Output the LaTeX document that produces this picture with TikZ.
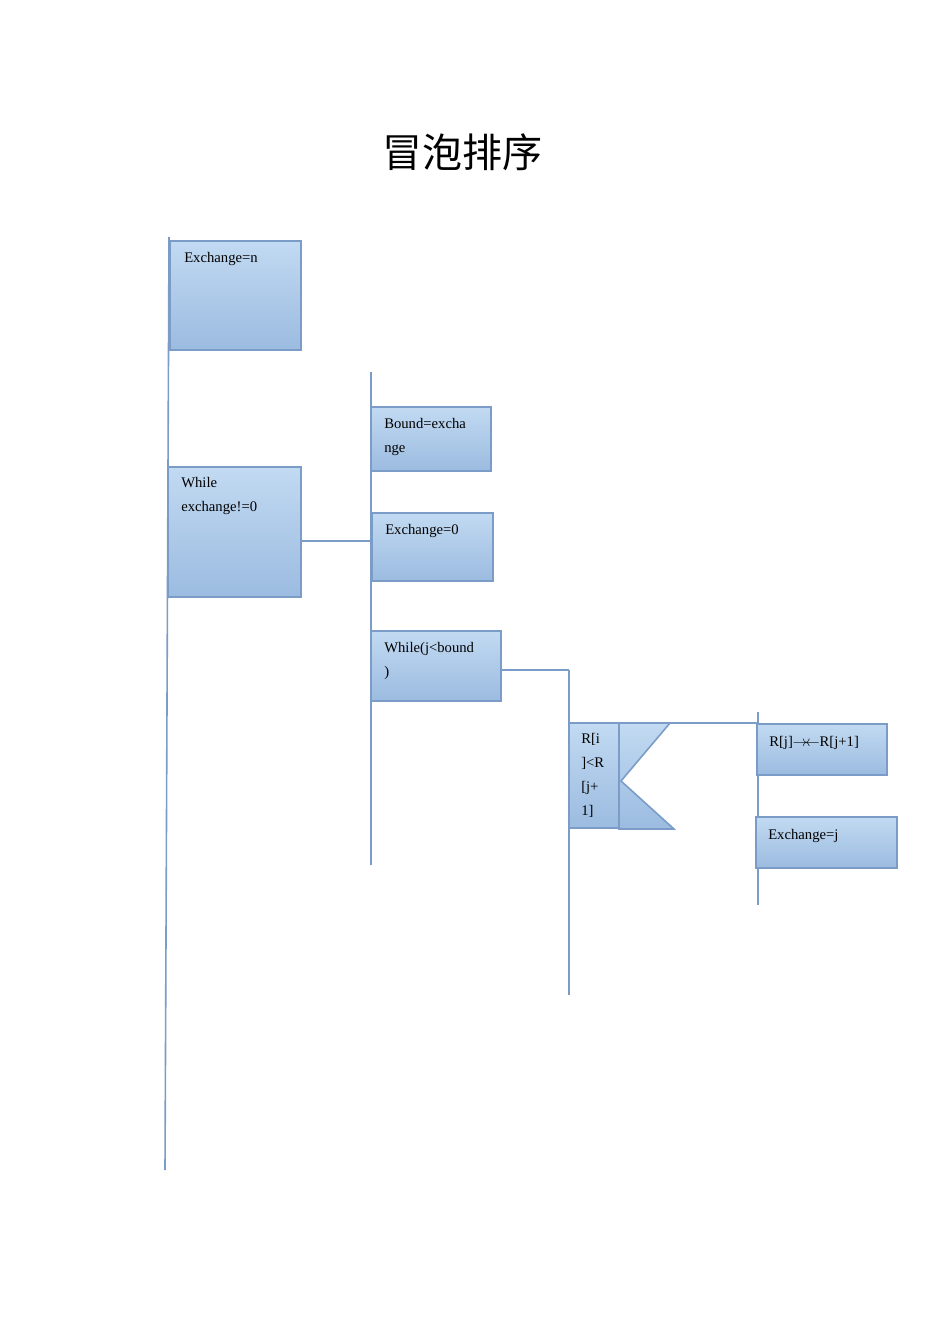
\documentclass[tikz,border=0pt]{standalone}
\usepackage{fontspec}
\setmainfont{Liberation Serif}
\newfontfamily\cjk{Noto Sans CJK SC}
\definecolor{bx}{HTML}{7A9CC6}
\definecolor{topc}{HTML}{C2DAF2}
\definecolor{botc}{HTML}{9BBBE0}
\begin{document}
\begin{tikzpicture}[x=0.75pt,y=-0.75pt,
  box/.style={draw=bx,line width=1.2pt,top color=topc,bottom color=botc},
  ln/.style={draw=bx,line width=1.2pt},
  lab/.style={anchor=north west,font=\fontsize{11}{18}\selectfont,align=left,inner sep=0pt}]
\useasboundingbox (0,0) rectangle (950,1344);
\node[font=\cjk\fontsize{30}{30}\selectfont] (title) at (462,152) {冒泡排序};
% lines
\draw[ln] (169,237) coordinate (m1) -- (165,1170) coordinate (m2);
\draw[ln] (371,372) coordinate (s1) -- (371,865) coordinate (s2);
\draw[ln] (569,670) coordinate (t1) -- (569,995) coordinate (t2);
\draw[ln] (758,712) coordinate (u1) -- (758,905) coordinate (u2);
\draw[ln] (301,541) coordinate (c1) -- (371,541) coordinate (c2);
\draw[ln] (498,670) coordinate (d1) -- (t1);
\draw[ln] (670,723) coordinate (e1) -- (758,723) coordinate (e2);
% boxes
\path[box] (170,241) rectangle (301,350) coordinate (exn);
\node[lab] (exnl) at (184,252) {Exchange=n};
\path[box] (168,467) rectangle (301,597);
\node[lab] (w1) at (181,477) {While\\exchange!=0};
\path[box] (371,407) rectangle (491,471);
\node[lab] (bd) at (384,418) {Bound=excha\\nge};
\path[box] (372,513) rectangle (493,581);
\node[lab] (e0) at (385,524) {Exchange=0};
\path[box] (371,631) rectangle (501,701);
\node[lab] (w2) at (384,642) {While(j<bound\\)};
\path[box] (569,723) rectangle (619,828);
\node[lab] (cd) at (581,733) {R[i\\{]<R}\\{[j+}\\{1]}};
\path[box] (619,723) -- (670,723) -- (621,781) -- (674,829) -- (619,829) -- cycle;
\path[box] (757,724) rectangle (887,775);
\node[lab] (sw) at (769,736) {R[j]$\rightarrow\!\leftarrow$R[j+1]};
\path[box] (756,817) rectangle (897,868);
\node[lab] (ej) at (768,829) {Exchange=j};
\end{tikzpicture}
\end{document}
